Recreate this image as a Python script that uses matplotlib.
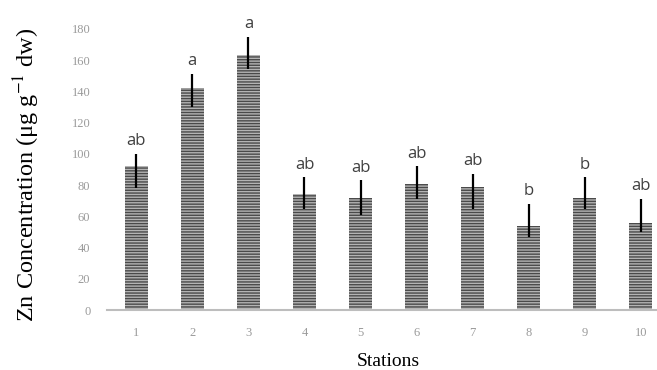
import numpy as np
import matplotlib.pyplot as plt

plt.rcParams['mathtext.fontset'] = 'stix'
plt.rcParams['hatch.linewidth'] = 1.0

stations = ['1', '2', '3', '4', '5', '6', '7', '8', '9', '10']
zn_mean = [92, 142, 163, 74, 72, 81, 79, 54, 72, 56]
err_low = [14, 12, 9, 9, 11, 10, 14, 7, 7, 6]
err_high = [8, 9, 12, 11, 11, 11, 8, 14, 13, 15]
groups = ['ab', 'a', 'a', 'ab', 'ab', 'ab', 'ab', 'b', 'b', 'ab']


def draw_chart():
    fig = plt.figure(figsize=(6.57, 3.70), dpi=100)
    ax = fig.add_axes([0.163, 0.162, 0.857, 0.760])

    x = np.arange(1, len(stations) + 1)
    ax.bar(x, zn_mean, width=0.41, color='#b4b4b4', edgecolor='#4a4a4a',
           linewidth=0, hatch='------', zorder=2)
    ax.errorbar(x, zn_mean, yerr=[err_low, err_high], fmt='none',
                ecolor='black', elinewidth=1.6, capsize=0, zorder=3)

    # significance letters above the error bars
    for xi, m, hi, g in zip(x, zn_mean, err_high, groups):
        ax.text(xi, m + hi + 3, g, ha='center', va='bottom',
                fontsize=12, color='#404040', family='Open Sans')

    ax.set_xlim(0.48, 10.52)
    ax.set_ylim(0, 180)
    ax.set_yticks(np.arange(0, 181, 20))
    ax.set_xticks(x)
    ax.set_xticklabels(stations)

    for side in ['top', 'right', 'left']:
        ax.spines[side].set_visible(False)
    ax.spines['bottom'].set_color('#bdbdbd')
    ax.spines['bottom'].set_linewidth(1.5)
    ax.spines['bottom'].set_zorder(4)

    ax.tick_params(axis='both', length=0, labelsize=9, labelcolor='#9a9a9a')
    ax.tick_params(axis='x', pad=12)
    ax.tick_params(axis='y', pad=12)
    for lbl in ax.get_xticklabels() + ax.get_yticklabels():
        lbl.set_family('Liberation Serif')

    ax.set_xlabel('Stations', fontsize=14, family='Liberation Serif', labelpad=10)
    ax.set_ylabel(r'Zn Concentration (μg g$^{-1}$ dw)', fontsize=17.5,
                  family='Liberation Serif')
    ax.yaxis.set_label_coords(-0.115, 0.48)

    fig.savefig('out.png', dpi=100)


if __name__ == '__main__':
    draw_chart()
